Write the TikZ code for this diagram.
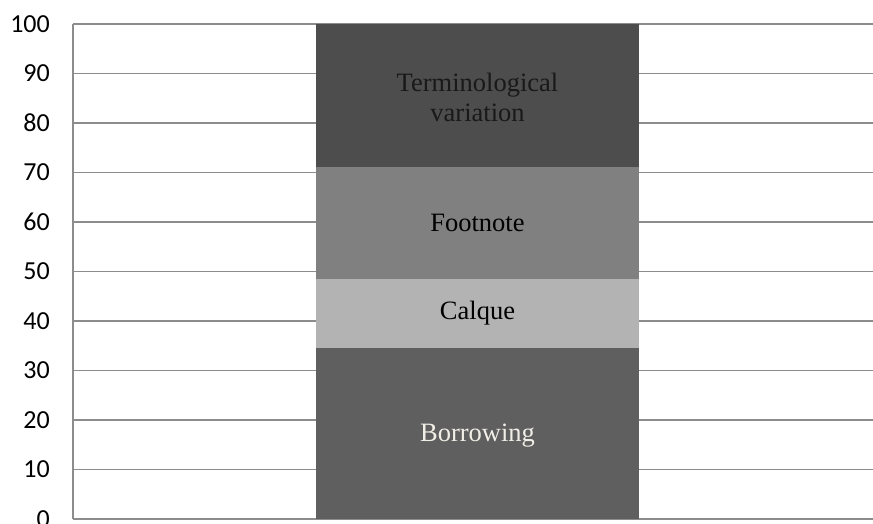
\documentclass[tikz,border=0pt]{standalone}
\usepackage{fontspec}
\setmainfont{Liberation Serif}
\newfontfamily\axisfont{Carlito}
\usepackage{tikz}
\usetikzlibrary{positioning}
\definecolor{termgray}{HTML}{4D4D4D}
\definecolor{footgray}{HTML}{808080}
\definecolor{calqgray}{HTML}{B3B3B3}
\definecolor{borrgray}{HTML}{5F5F5F}
\definecolor{gridgray}{HTML}{8C8C8C}
\definecolor{paletext}{HTML}{F0EEE6}

\begin{document}
\begin{tikzpicture}[x=1pt,y=1pt,
        gridline/.style={draw=gridgray,line width=1.5pt},
        ticklabel/.style={anchor=east,inner sep=0pt,font=\axisfont\fontsize{26}{30}\selectfont},
        barlabel/.style={align=center,inner sep=0pt,font=\fontsize{26.5}{30}\selectfont}]
        \useasboundingbox (0,0) rectangle (873,523);
        \begin{scope}[y=4.95pt,yshift=4pt]
        % grid and axis
        \foreach \v in {0,10,...,100} {
                \draw [gridline] (73,\v) -- (873,\v);
                \node [ticklabel] (l\v) at (50,\v) {\v};
        }
        \draw [gridline] (73,0) -- (73,100);
        % stacked bar
        \fill [borrgray] (316,0) rectangle (639,34.5);
        \fill [calqgray] (316,34.5) rectangle (639,48.5);
        \fill [footgray] (316,48.5) rectangle (639,71.1);
        \fill [termgray] (316,71.1) rectangle (639,100);
        \node [barlabel,text=paletext] (B) at (477.5,16.9) {Borrowing};
        \node [barlabel] (C) at (477.5,41.5) {Calque};
        \node [barlabel] (F) at (477.5,59.8) {Footnote};
        \node [barlabel,text=black!90] (T) at (477.5,85.2) {Terminological\\variation};
        \end{scope}
\end{tikzpicture}
\end{document}
